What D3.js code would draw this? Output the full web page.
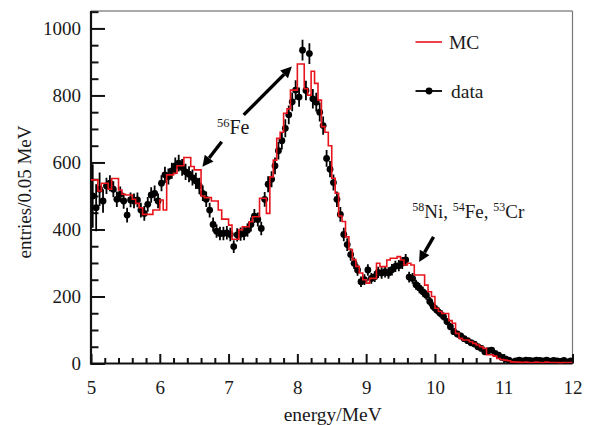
<!DOCTYPE html>
<html>
<head>
<meta charset="utf-8">
<script src="https://cdn.jsdelivr.net/npm/d3@7/dist/d3.min.js"></script>
<style>
  html, body { margin: 0; padding: 0; background: #fff; }
  svg { display: block; }
  text { font-family: "Liberation Serif", "DejaVu Serif", serif; fill: #1a1a1a; }
</style>
</head>
<body>
<svg id="chart" width="591" height="425"></svg>
<script>
// Energy binning (MeV): 0.05 MeV bins from 5 to 12
const eMin = 5, eMax = 12, binWidth = 0.05;

// Monte Carlo prediction, entries per bin (bin lower edges 5.00, 5.05, ...)
const mcCounts = [
  548,548,515,538,538,520,552,552,518,505,
  503,503,490,478,465,445,445,445,458,458,
  488,458,563,563,568,590,590,615,615,588,
  578,578,500,495,495,485,485,458,431,431,
  413,371,371,399,408,408,423,438,438,493,
  493,448,557,607,672,690,747,760,816,816,
  894,894,820,801,872,836,786,707,690,650,
  553,508,440,424,378,340,310,290,270,250,
  240,254,254,299,289,289,309,314,314,319,
  309,294,299,294,264,264,264,234,214,200,
  165,155,149,149,128,120,90,75,70,70,
  65,60,55,50,45,26,26,22,15,12,
  10,8,5,4,4,3,4,3,3,4,
  3,3,4,3,3,3,2,3,3,3
];

// Measured spectrum, entries per bin (bin centres 5.025, 5.075, ...)
const dataCounts = [
  500,465,520,485,530,538,520,490,505,485,
  443,488,485,488,458,448,475,503,508,485,
  538,563,558,575,590,598,585,572,565,555,
  545,530,508,490,458,415,395,388,388,390,
  385,349,384,386,388,398,415,440,430,403,
  490,535,550,590,635,665,702,742,781,816,
  795,935,815,925,790,780,750,710,612,580,
  540,490,445,385,355,325,299,279,244,250,
  279,254,259,272,270,274,270,280,290,292,
  300,309,258,254,235,225,214,204,185,170,
  160,150,140,125,110,95,88,82,74,68,
  62,58,50,45,35,38,40,30,25,18,
  14,10,5,8,10,8,10,9,8,10,
  9,8,10,7,9,8,6,9,5,8
];

// Uncertainty on each measured bin
const dataErrors = [
  95,70,50,35,24,24,24,23,23,23,
  22,22,22,22,22,22,22,23,23,22,
  24,24,24,24,25,25,25,24,24,24,
  24,24,23,23,22,21,20,20,20,20,
  20,19,20,20,20,20,21,21,21,20,
  22,24,24,25,26,26,27,28,28,29,
  29,31,29,31,29,28,28,27,25,24,
  24,23,22,20,19,18,17,17,16,16,
  17,16,16,17,17,17,17,17,17,17,
  18,18,16,16,15,15,15,14,14,13,
  13,12,12,11,11,10,10,9,9,8,
  8,8,7,7,6,6,6,5,5,4,
  4,3,2,3,3,3,3,3,3,3,
  3,3,3,3,3,3,2,3,2,3
];

// Axis ticks
const xMajorTicks = [5, 6, 7, 8, 9, 10, 11, 12];
const yMajorTicks = [0, 200, 400, 600, 800, 1000];

// Peak annotations (energy, entries)
const annotations = [
  { parts: [["56", true], ["Fe", false]], at: [6.83, 685] }
];
const nickelLabel = { parts: [["58", true], ["Ni, ", false], ["54", true], ["Fe, ", false], ["53", true], ["Cr", false]], at: [9.67, 434] };
const arrows = [
  { from: [6.90, 662], to: [6.62, 587] },
  { from: [7.22, 742], to: [7.92, 886] },
  { from: [9.98, 378], to: [9.77, 303] }
];

const svg = d3.select("#chart");
const plot = { left: 91, right: 572.5, top: 11, bottom: 363.5 };

const x = d3.scaleLinear().domain([eMin, eMax]).range([plot.left, plot.right]);
const y = d3.scaleLinear().domain([0, 1052]).range([plot.bottom, plot.top]);

const nBins = mcCounts.length;
const binLow = i => eMin + i * binWidth;

// Clip region for the plotted marks
svg.append("defs").append("clipPath").attr("id", "plotClip")
  .append("rect")
  .attr("x", plot.left).attr("y", plot.top)
  .attr("width", plot.right - plot.left).attr("height", plot.bottom - plot.top);

// Frame: top and right edges
svg.append("line").attr("x1", plot.left).attr("x2", plot.right)
  .attr("y1", plot.top).attr("y2", plot.top)
  .attr("stroke", "#555").attr("stroke-width", 1.2);
svg.append("line").attr("x1", plot.right).attr("x2", plot.right)
  .attr("y1", plot.top).attr("y2", plot.bottom)
  .attr("stroke", "#777").attr("stroke-width", 1.2);

// Y axis (ticks point inward)
const yMinor = d3.range(0, 1051, 50).filter(v => v % 200 !== 0);
const yAxis = svg.append("g").attr("transform", `translate(${plot.left},0)`)
  .call(d3.axisLeft(y).tickValues(yMajorTicks).tickSize(-14).tickPadding(10).tickFormat(d3.format("d")));
svg.append("g").attr("transform", `translate(${plot.left},0)`)
  .call(d3.axisLeft(y).tickValues(yMinor).tickSize(-7.5).tickFormat(""));

// X axis (ticks point inward)
const xMinor = d3.range(0, 36).map(i => eMin + i * 0.2).filter(v => Math.abs(v - Math.round(v)) > 1e-6);
const xAxis = svg.append("g").attr("transform", `translate(0,${plot.bottom})`)
  .call(d3.axisBottom(x).tickValues(xMajorTicks).tickSize(-9.5).tickPadding(17).tickFormat(d3.format("d")));
svg.append("g").attr("transform", `translate(0,${plot.bottom})`)
  .call(d3.axisBottom(x).tickValues(xMinor).tickSize(-5.5).tickFormat(""));

svg.selectAll(".domain").remove();
svg.selectAll(".tick line").attr("stroke", "#111").attr("stroke-width", 2);
svg.selectAll(".tick text").attr("font-size", 19).attr("fill", "#1a1a1a")
  .style("font-family", "'Liberation Serif', serif");

// Axis lines
svg.append("line").attr("x1", plot.left).attr("x2", plot.left)
  .attr("y1", plot.top).attr("y2", plot.bottom + 1)
  .attr("stroke", "#111").attr("stroke-width", 2.2);
svg.append("line").attr("x1", plot.left - 1).attr("x2", plot.right)
  .attr("y1", plot.bottom).attr("y2", plot.bottom)
  .attr("stroke", "#111").attr("stroke-width", 2.2);

// Axis titles
svg.append("text")
  .attr("x", (plot.left + plot.right) / 2 + 1).attr("y", 421)
  .attr("text-anchor", "middle").attr("font-size", 19.5)
  .text("energy/MeV");
svg.append("text")
  .attr("transform", "translate(31,192) rotate(-90)")
  .attr("text-anchor", "middle").attr("font-size", 19)
  .text("entries/0.05 MeV");

const marks = svg.append("g").attr("clip-path", "url(#plotClip)");

// Measured data: error bars and markers
const dataG = marks.append("g");
dataG.selectAll("line.err").data(dataCounts).join("line")
  .attr("class", "err")
  .attr("x1", (d, i) => x(binLow(i) + binWidth / 2))
  .attr("x2", (d, i) => x(binLow(i) + binWidth / 2))
  .attr("y1", (d, i) => y(d - dataErrors[i]))
  .attr("y2", (d, i) => y(d + dataErrors[i]))
  .attr("stroke", "#000").attr("stroke-width", 1.8);
dataG.selectAll("circle").data(dataCounts).join("circle")
  .attr("cx", (d, i) => x(binLow(i) + binWidth / 2))
  .attr("cy", d => y(d))
  .attr("r", 3.4)
  .attr("fill", "#000");

// Monte Carlo histogram as a step outline
const stepPoints = mcCounts.map((v, i) => [binLow(i), v]);
stepPoints.push([eMax, mcCounts[nBins - 1]]);
const stepLine = d3.line()
  .x(d => x(d[0])).y(d => y(d[1]))
  .curve(d3.curveStepAfter);
marks.append("path")
  .attr("d", stepLine(stepPoints))
  .attr("fill", "none")
  .attr("stroke", "#e8141c")
  .attr("stroke-width", 1.6)
  .attr("stroke-linejoin", "miter");

// Arrows
function drawArrow(a) {
  const x0 = x(a.from[0]), y0 = y(a.from[1]);
  const x1 = x(a.to[0]), y1 = y(a.to[1]);
  const ang = Math.atan2(y1 - y0, x1 - x0);
  const headLen = 11, headHalf = 5.5;
  const bx = x1 - headLen * Math.cos(ang), by = y1 - headLen * Math.sin(ang);
  svg.append("line")
    .attr("x1", x0).attr("y1", y0).attr("x2", bx).attr("y2", by)
    .attr("stroke", "#000").attr("stroke-width", 3.4);
  const px = -Math.sin(ang), py = Math.cos(ang);
  svg.append("path")
    .attr("d", `M${x1},${y1} L${bx + px * headHalf},${by + py * headHalf} L${bx - px * headHalf},${by - py * headHalf} Z`)
    .attr("fill", "#000");
}
arrows.forEach(drawArrow);

// Labels with superscript mass numbers
function drawLabel(lbl, mainSize, supSize) {
  const t = svg.append("text")
    .attr("x", x(lbl.at[0])).attr("y", y(lbl.at[1]));
  let raised = false;
  lbl.parts.forEach(([s, sup]) => {
    const ts = t.append("tspan").text(s).attr("font-size", sup ? supSize : mainSize);
    if (sup && !raised) { ts.attr("dy", -7); raised = true; }
    else if (!sup && raised) { ts.attr("dy", 7); raised = false; }
  });
  t.attr("xml:space", "preserve").style("white-space", "pre");
}
annotations.forEach(a => drawLabel(a, 20, 12.5));
drawLabel(nickelLabel, 19, 12);

// Legend
const legend = svg.append("g");
legend.append("line").attr("x1", 415.5).attr("x2", 442).attr("y1", 42).attr("y2", 42)
  .attr("stroke", "#e8141c").attr("stroke-width", 1.6);
legend.append("text").attr("x", 449).attr("y", 49).attr("font-size", 19.5).text("MC");
legend.append("line").attr("x1", 415.5).attr("x2", 442).attr("y1", 91).attr("y2", 91)
  .attr("stroke", "#000").attr("stroke-width", 1.8);
legend.append("circle").attr("cx", 429).attr("cy", 91).attr("r", 3.4).attr("fill", "#000");
legend.append("text").attr("x", 451).attr("y", 98).attr("font-size", 19.5).text("data");
</script>
</body>
</html>
